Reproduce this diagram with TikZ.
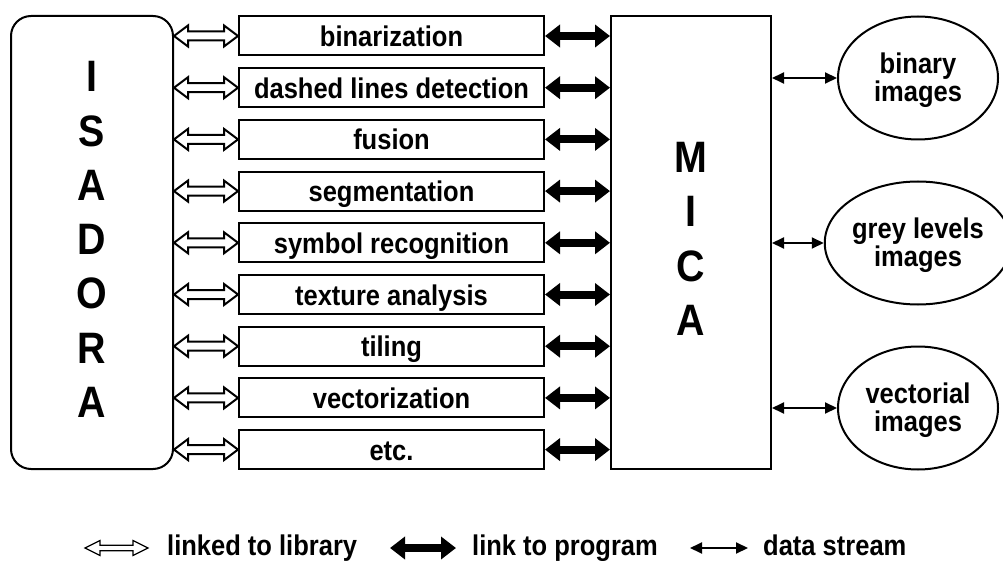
\documentclass[tikz,border=0pt]{standalone}
\usepackage{fontspec}
\setmainfont{Liberation Sans}[FakeStretch=0.895]
\usetikzlibrary{arrows.meta,shapes.geometric,calc}
\tikzset{
  x=1pt, y=-1pt,
  procbox/.style={draw, line width=2pt, minimum width=305pt, minimum height=39pt,
    inner sep=0pt, text height=21pt, text depth=0pt,
    font=\fontsize{28.5}{28}\selectfont\bfseries},
  bigbox/.style={draw, line width=2pt, minimum width=160pt, minimum height=453pt,
    inner sep=0pt, align=center, font=\fontsize{44}{54.3}\selectfont\bfseries},
  imgell/.style={ellipse, draw, line width=2pt, minimum width=160pt, minimum height=123pt,
    inner sep=0pt, align=center, font=\fontsize{28.5}{28}\selectfont\bfseries},
  legtext/.style={anchor=base west, inner sep=0pt, font=\fontsize{28.5}{28}\selectfont\bfseries},
  libarrow/.style n args={4}{line width=#1, line join=miter,
    to path={let \p1=(\tikztostart), \p2=(\tikztotarget) in
      (\x1,\y1) -- (\x1+#4,\y1+#3) -- (\x1+#4,\y1+#2) -- (\x2-#4,\y1+#2) -- (\x2-#4,\y1+#3)
      -- (\x2,\y1) -- (\x2-#4,\y1-#3) -- (\x2-#4,\y1-#2) -- (\x1+#4,\y1-#2) -- (\x1+#4,\y1-#3) -- cycle}},
  progarrow/.style={line width=8pt, {Triangle[length=15pt,width=22pt]}-{Triangle[length=15pt,width=22pt]}},
  datarrow/.style={line width=2pt, {Triangle[length=12pt,width=11pt]}-{Triangle[length=12pt,width=11pt]}},
}
\begin{document}
\begin{tikzpicture}
\useasboundingbox (0,0) rectangle (1003,561);
\node[bigbox, rounded corners=20pt, minimum width=162pt] (isa) at (92,242.5)
  {I\\S\\A\\D\\O\\R\\A\rule[-6pt]{0pt}{6pt}};
\node[bigbox] (mica) at (691,242.5) {M\\I\\C\\A\rule[-7pt]{0pt}{7pt}};
\foreach \t [count=\i from 0] in {binarization, dashed lines detection, fusion, segmentation,
  symbol recognition, texture analysis, tiling, vectorization, etc.}
  \node[procbox] (b\i) at (391.5,{36+51.7*\i}) {\t};
\foreach \i in {0,...,8}{
  \draw[libarrow={2pt}{4.5pt}{10.5pt}{14pt}] (isa.east |- b\i.west) to (b\i.west);
  \draw[progarrow] (b\i.east) -- (mica.west |- b\i.east);
}
\node[imgell] (e1) at (918,78) {\rule{0pt}{26pt}binary\\images};
\node[imgell] (e2) at (918,243) {\rule{0pt}{26pt}grey levels\\images};
\node[imgell] (e3) at (918,408) {\rule{0pt}{26pt}vectorial\\images};
\foreach \i in {1,2,3}
  \draw[datarrow] (mica.east |- e\i.west) -- (e\i.west);
% legend
\coordinate (l1a) at (85,548);  \coordinate (l1b) at (148,548);
\coordinate (l2a) at (390,548); \coordinate (l2b) at (456,548);
\coordinate (l3a) at (690,548); \coordinate (l3b) at (748,548);
\draw[libarrow={1.2pt}{2.7pt}{7.5pt}{15pt}] (l1a) to (l1b);
\draw[progarrow] (l2a) -- (l2b);
\draw[datarrow] (l3a) -- (l3b);
\node[legtext] (t1) at (167,555) {linked to library};
\node[legtext] (t2) at (472,555) {link to program};
\node[legtext] (t3) at (763,555) {data stream};
\end{tikzpicture}
\end{document}
